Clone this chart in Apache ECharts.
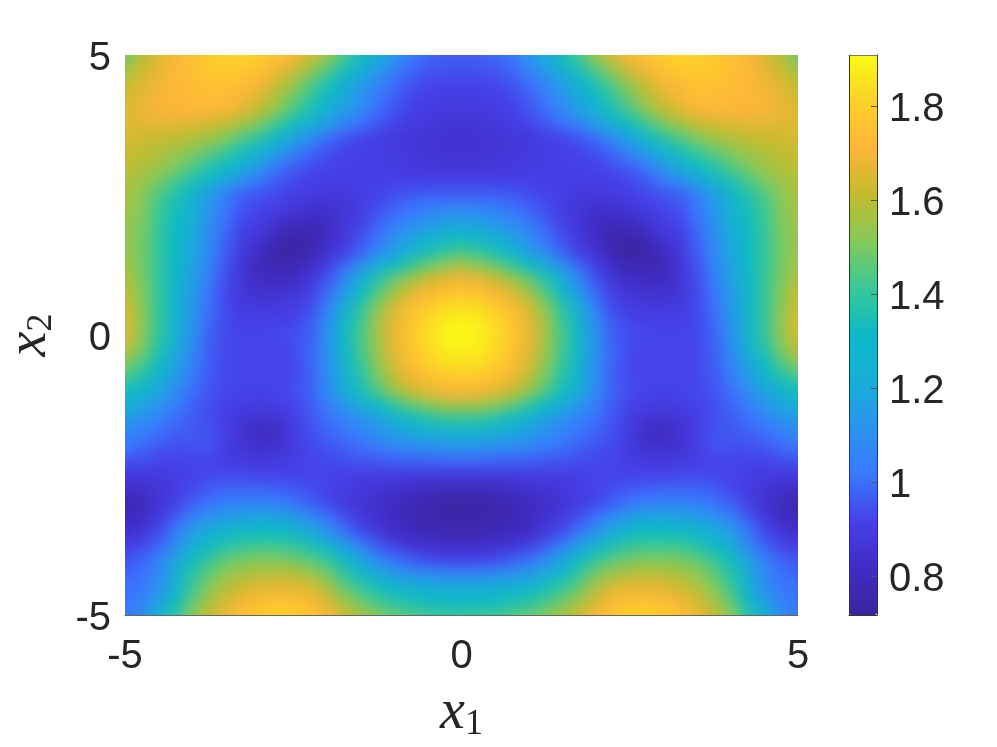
<!DOCTYPE html>
<html>
<head>
<meta charset="utf-8">
<style>
  html, body { margin: 0; background: #fff; }
  #chart { width: 997px; height: 747px; }
  /* heatmap layers sit on their own canvases: keep them inside the axes, soften the cell steps on the top one */
  #chart canvas + canvas { clip-path: inset(55px 199px 132px 125px); }
  #chart canvas + canvas + canvas { filter: blur(7px); }
</style>
<script src="https://cdn.jsdelivr.net/npm/echarts@6/dist/echarts.min.js"></script>
</head>
<body>
<div id="chart"></div>
<script>
// grid steps along x1 (left to right) and x2 (top row first)
const x1Steps = [-5,-4.75,-4.5,-4.25,-4,-3.75,-3.5,-3.25,-3,-2.75,-2.5,-2.25,-2,-1.75,-1.5,-1.25,-1,-.75,-.5,-.25,0,.25,.5,.75,1,1.25,1.5,1.75,2,2.25,2.5,2.75,3,3.25,3.5,3.75,4,4.25,4.5,4.75,5];
const x2Steps = [5,4.75,4.5,4.25,4,3.75,3.5,3.25,3,2.75,2.5,2.25,2,1.75,1.5,1.25,1,.75,.5,.25,0,-.25,-.5,-.75,-1,-1.25,-1.5,-1.75,-2,-2.25,-2.5,-2.75,-3,-3.25,-3.5,-3.75,-4,-4.25,-4.5,-4.75,-5];

// values, one row per x2 step
const fieldRows = [
[1.48,1.58,1.65,1.71,1.75,1.79,1.81,1.82,1.80,1.76,1.72,1.64,1.55,1.44,1.33,1.22,1.12,1.03,.99,.97,.97,.97,.99,1.03,1.12,1.22,1.33,1.44,1.55,1.64,1.72,1.76,1.80,1.82,1.81,1.79,1.75,1.71,1.65,1.58,1.48],
[1.55,1.62,1.67,1.72,1.75,1.78,1.79,1.78,1.75,1.70,1.64,1.55,1.46,1.35,1.25,1.15,1.06,.99,.96,.95,.95,.95,.96,.99,1.06,1.15,1.25,1.35,1.46,1.55,1.64,1.70,1.75,1.78,1.79,1.78,1.75,1.72,1.67,1.62,1.55],
[1.60,1.65,1.69,1.72,1.74,1.76,1.76,1.74,1.70,1.63,1.55,1.46,1.36,1.26,1.16,1.07,1.00,.95,.93,.92,.92,.92,.93,.95,1.00,1.07,1.16,1.26,1.36,1.46,1.55,1.63,1.70,1.74,1.76,1.76,1.74,1.72,1.69,1.65,1.60],
[1.63,1.67,1.70,1.72,1.73,1.74,1.73,1.70,1.65,1.58,1.49,1.40,1.30,1.20,1.11,1.03,.97,.93,.91,.90,.90,.90,.91,.93,.97,1.03,1.11,1.20,1.30,1.40,1.49,1.58,1.65,1.70,1.73,1.74,1.73,1.72,1.70,1.67,1.63],
[1.65,1.68,1.70,1.71,1.71,1.71,1.70,1.65,1.60,1.52,1.43,1.34,1.25,1.15,1.07,1.00,.95,.91,.89,.88,.88,.88,.89,.91,.95,1.00,1.07,1.15,1.25,1.34,1.43,1.52,1.60,1.65,1.70,1.71,1.71,1.71,1.70,1.68,1.65],
[1.65,1.66,1.66,1.66,1.65,1.63,1.60,1.55,1.49,1.41,1.32,1.23,1.14,1.06,1.00,.95,.92,.89,.88,.87,.86,.87,.88,.89,.92,.95,1.00,1.06,1.14,1.23,1.32,1.41,1.49,1.55,1.60,1.63,1.65,1.66,1.66,1.66,1.65],
[1.64,1.63,1.62,1.60,1.58,1.55,1.50,1.44,1.37,1.28,1.18,1.08,1.00,.95,.92,.90,.88,.87,.86,.85,.85,.85,.86,.87,.88,.90,.92,.95,1.00,1.08,1.18,1.28,1.37,1.44,1.50,1.55,1.58,1.60,1.62,1.63,1.64],
[1.62,1.60,1.58,1.55,1.51,1.46,1.41,1.33,1.25,1.15,1.06,.99,.94,.92,.91,.90,.89,.88,.87,.86,.86,.86,.87,.88,.89,.90,.91,.92,.94,.99,1.06,1.15,1.25,1.33,1.41,1.46,1.51,1.55,1.58,1.60,1.62],
[1.60,1.58,1.55,1.50,1.44,1.37,1.31,1.22,1.13,1.03,.97,.94,.92,.91,.91,.90,.89,.88,.87,.87,.87,.87,.87,.88,.89,.90,.91,.91,.92,.94,.97,1.03,1.13,1.22,1.31,1.37,1.44,1.50,1.55,1.58,1.60],
[1.58,1.55,1.50,1.43,1.36,1.27,1.18,1.09,1.02,.96,.93,.91,.90,.90,.91,.91,.91,.91,.91,.91,.91,.91,.91,.91,.91,.91,.91,.90,.90,.91,.93,.96,1.02,1.09,1.18,1.27,1.36,1.43,1.50,1.55,1.58],
[1.57,1.52,1.44,1.36,1.28,1.15,1.04,.97,.95,.93,.91,.89,.88,.88,.90,.92,.94,.96,.97,.97,.97,.97,.97,.96,.94,.92,.90,.88,.88,.89,.91,.93,.95,.97,1.04,1.15,1.28,1.36,1.44,1.52,1.57],
[1.56,1.51,1.42,1.34,1.25,1.12,1.02,.95,.92,.90,.87,.84,.84,.87,.90,.94,.98,1.01,1.04,1.06,1.07,1.06,1.04,1.01,.98,.94,.90,.87,.84,.84,.87,.90,.92,.95,1.02,1.12,1.25,1.34,1.42,1.51,1.56],
[1.55,1.50,1.41,1.32,1.22,1.10,1.00,.92,.90,.85,.81,.79,.81,.87,.91,.97,1.03,1.08,1.12,1.16,1.17,1.16,1.12,1.08,1.03,.97,.91,.87,.81,.79,.81,.85,.90,.92,1.00,1.10,1.22,1.32,1.41,1.50,1.55],
[1.55,1.49,1.40,1.31,1.20,1.08,.98,.90,.87,.79,.75,.76,.82,.88,.94,1.01,1.09,1.16,1.22,1.27,1.30,1.27,1.22,1.16,1.09,1.01,.94,.88,.82,.76,.75,.79,.87,.90,.98,1.08,1.20,1.31,1.40,1.49,1.55],
[1.55,1.49,1.40,1.31,1.19,1.07,.97,.88,.81,.74,.72,.76,.84,.90,.97,1.06,1.15,1.25,1.33,1.39,1.42,1.39,1.33,1.25,1.15,1.06,.97,.90,.84,.76,.72,.74,.81,.88,.97,1.07,1.19,1.31,1.40,1.49,1.55],
[1.56,1.49,1.40,1.30,1.17,1.05,.95,.86,.79,.76,.77,.82,.90,.98,1.09,1.21,1.31,1.40,1.47,1.52,1.56,1.52,1.47,1.40,1.31,1.21,1.09,.98,.90,.82,.77,.76,.79,.86,.95,1.05,1.17,1.30,1.40,1.49,1.56],
[1.58,1.50,1.40,1.29,1.16,1.03,.94,.86,.81,.80,.82,.87,.95,1.07,1.22,1.36,1.47,1.55,1.62,1.67,1.69,1.67,1.62,1.55,1.47,1.36,1.22,1.07,.95,.87,.82,.80,.81,.86,.94,1.03,1.16,1.29,1.40,1.50,1.58],
[1.61,1.51,1.40,1.28,1.14,1.01,.93,.87,.85,.85,.87,.90,.99,1.13,1.30,1.44,1.56,1.65,1.71,1.75,1.77,1.75,1.71,1.65,1.56,1.44,1.30,1.13,.99,.90,.87,.85,.85,.87,.93,1.01,1.14,1.28,1.40,1.51,1.61],
[1.63,1.52,1.40,1.27,1.13,1.00,.93,.89,.88,.88,.90,.93,1.04,1.21,1.38,1.52,1.64,1.73,1.79,1.83,1.84,1.83,1.79,1.73,1.64,1.52,1.38,1.21,1.04,.93,.90,.88,.88,.89,.93,1.00,1.13,1.27,1.40,1.52,1.63],
[1.65,1.53,1.40,1.26,1.11,.99,.93,.91,.91,.91,.92,.96,1.08,1.26,1.41,1.55,1.67,1.76,1.83,1.87,1.89,1.87,1.83,1.76,1.67,1.55,1.41,1.26,1.08,.96,.92,.91,.91,.91,.93,.99,1.11,1.26,1.40,1.53,1.65],
[1.65,1.53,1.39,1.25,1.10,.98,.93,.92,.92,.93,.94,.97,1.10,1.29,1.43,1.56,1.68,1.77,1.84,1.89,1.91,1.89,1.84,1.77,1.68,1.56,1.43,1.29,1.10,.97,.94,.93,.92,.92,.93,.98,1.10,1.25,1.39,1.53,1.65],
[1.60,1.50,1.37,1.22,1.08,.97,.93,.92,.92,.92,.93,.98,1.10,1.28,1.42,1.55,1.67,1.76,1.83,1.87,1.89,1.87,1.83,1.76,1.67,1.55,1.42,1.28,1.10,.98,.93,.92,.92,.92,.93,.97,1.08,1.22,1.37,1.50,1.60],
[1.52,1.44,1.32,1.18,1.05,.97,.93,.92,.92,.92,.93,.98,1.09,1.25,1.40,1.53,1.65,1.74,1.80,1.84,1.85,1.84,1.80,1.74,1.65,1.53,1.40,1.25,1.09,.98,.93,.92,.92,.92,.93,.97,1.05,1.18,1.32,1.44,1.52],
[1.43,1.36,1.26,1.14,1.03,.96,.93,.92,.92,.92,.93,.97,1.08,1.23,1.37,1.49,1.60,1.69,1.75,1.78,1.79,1.78,1.75,1.69,1.60,1.49,1.37,1.23,1.08,.97,.93,.92,.92,.92,.93,.96,1.03,1.14,1.26,1.36,1.43],
[1.33,1.27,1.18,1.09,1.00,.95,.93,.92,.92,.92,.94,.98,1.08,1.21,1.33,1.44,1.54,1.62,1.67,1.70,1.71,1.70,1.67,1.62,1.54,1.44,1.33,1.21,1.08,.98,.94,.92,.92,.92,.93,.95,1.00,1.09,1.18,1.27,1.33],
[1.24,1.19,1.11,1.04,.98,.94,.92,.90,.89,.90,.92,.96,1.03,1.12,1.22,1.31,1.39,1.47,1.52,1.56,1.57,1.56,1.52,1.47,1.39,1.31,1.22,1.12,1.03,.96,.92,.90,.89,.90,.92,.94,.98,1.04,1.11,1.19,1.24],
[1.15,1.10,1.05,1.00,.96,.94,.90,.87,.85,.86,.90,.95,1.00,1.05,1.10,1.17,1.24,1.31,1.36,1.39,1.40,1.39,1.36,1.31,1.24,1.17,1.10,1.05,1.00,.95,.90,.86,.85,.87,.90,.94,.96,1.00,1.05,1.10,1.15],
[1.08,1.04,1.00,.97,.96,.95,.91,.85,.80,.82,.89,.94,.98,1.01,1.05,1.10,1.15,1.19,1.22,1.24,1.25,1.24,1.22,1.19,1.15,1.10,1.05,1.01,.98,.94,.89,.82,.80,.85,.91,.95,.96,.97,1.00,1.04,1.08],
[1.02,.99,.96,.94,.95,.95,.90,.86,.84,.85,.89,.93,.95,.97,1.00,1.03,1.06,1.08,1.10,1.11,1.12,1.11,1.10,1.08,1.06,1.03,1.00,.97,.95,.93,.89,.85,.84,.86,.90,.95,.95,.94,.96,.99,1.02],
[.95,.94,.92,.92,.92,.92,.90,.89,.88,.89,.90,.92,.93,.94,.95,.96,.97,.98,.98,.99,.99,.99,.98,.98,.97,.96,.95,.94,.93,.92,.90,.89,.88,.89,.90,.92,.92,.92,.92,.94,.95],
[.88,.88,.89,.90,.92,.93,.93,.93,.92,.92,.92,.92,.92,.91,.90,.90,.90,.89,.88,.88,.88,.88,.88,.89,.90,.90,.90,.91,.92,.92,.92,.92,.92,.93,.93,.93,.92,.90,.89,.88,.88],
[.82,.84,.87,.90,.93,.96,.98,.98,.98,.97,.96,.94,.92,.90,.88,.86,.85,.83,.81,.80,.80,.80,.81,.83,.85,.86,.88,.90,.92,.94,.96,.97,.98,.98,.98,.96,.93,.90,.87,.84,.82],
[.77,.80,.85,.91,.97,1.01,1.04,1.05,1.05,1.04,1.01,.97,.93,.89,.86,.83,.80,.77,.75,.74,.73,.74,.75,.77,.80,.83,.86,.89,.93,.97,1.01,1.04,1.05,1.05,1.04,1.01,.97,.91,.85,.80,.77],
[.79,.82,.88,.96,1.05,1.10,1.14,1.17,1.18,1.18,1.15,1.08,1.01,.94,.89,.85,.81,.78,.76,.75,.74,.75,.76,.78,.81,.85,.89,.94,1.01,1.08,1.15,1.18,1.18,1.17,1.14,1.10,1.05,.96,.88,.82,.79],
[.83,.86,.93,1.03,1.14,1.22,1.27,1.30,1.31,1.31,1.27,1.19,1.10,1.01,.93,.87,.82,.79,.77,.76,.76,.76,.77,.79,.82,.87,.93,1.01,1.10,1.19,1.27,1.31,1.31,1.30,1.27,1.22,1.14,1.03,.93,.86,.83],
[.89,.92,.98,1.08,1.22,1.30,1.36,1.40,1.41,1.41,1.39,1.34,1.26,1.15,1.05,.96,.90,.86,.84,.83,.82,.83,.84,.86,.90,.96,1.05,1.15,1.26,1.34,1.39,1.41,1.41,1.40,1.36,1.30,1.22,1.08,.98,.92,.89],
[.95,.98,1.04,1.18,1.32,1.40,1.46,1.49,1.50,1.50,1.48,1.45,1.39,1.30,1.18,1.07,1.00,.96,.93,.91,.91,.91,.93,.96,1.00,1.07,1.18,1.30,1.39,1.45,1.48,1.50,1.50,1.49,1.46,1.40,1.32,1.18,1.04,.98,.95],
[.98,1.00,1.07,1.22,1.37,1.46,1.52,1.56,1.58,1.59,1.58,1.55,1.49,1.39,1.29,1.20,1.13,1.09,1.07,1.05,1.05,1.05,1.07,1.09,1.13,1.20,1.29,1.39,1.49,1.55,1.58,1.59,1.58,1.56,1.52,1.46,1.37,1.22,1.07,1.00,.98],
[1.00,1.02,1.10,1.25,1.41,1.51,1.58,1.63,1.66,1.67,1.67,1.64,1.57,1.47,1.40,1.33,1.27,1.24,1.22,1.20,1.20,1.20,1.22,1.24,1.27,1.33,1.40,1.47,1.57,1.64,1.67,1.67,1.66,1.63,1.58,1.51,1.41,1.25,1.10,1.02,1.00],
[1.01,1.05,1.16,1.31,1.46,1.56,1.64,1.69,1.73,1.75,1.75,1.71,1.64,1.55,1.48,1.42,1.37,1.34,1.32,1.31,1.30,1.31,1.32,1.34,1.37,1.42,1.48,1.55,1.64,1.71,1.75,1.75,1.73,1.69,1.64,1.56,1.46,1.31,1.16,1.05,1.01],
[1.02,1.08,1.27,1.38,1.52,1.61,1.68,1.75,1.79,1.81,1.80,1.76,1.70,1.63,1.57,1.51,1.47,1.44,1.42,1.41,1.40,1.41,1.42,1.44,1.47,1.51,1.57,1.63,1.70,1.76,1.80,1.81,1.79,1.75,1.68,1.61,1.52,1.38,1.27,1.08,1.02]
];

const xTicks = [-5, 0, 5];
const colorbarTicks = [0.8, 1, 1.2, 1.4, 1.6, 1.8];
const colorMin = 0.717;
const colorMax = 1.908;
// parula as it appears in the colorbar, bottom to top
const parula = ['#3a259f','#402cc4','#4640e8','#3a78ff','#2a94ee','#18aed6','#0cb9c6','#38c898','#84ca5a','#c4bb2e','#fdb53a','#fdd028','#f9fb14'];

const textColor = '#262626';
const tickFont = 'Liberation Sans, Arial, sans-serif';
const mathRich = {
  v: { fontFamily: 'Liberation Serif, serif', fontStyle: 'italic', fontSize: 56, color: textColor },
  s: { fontFamily: 'Liberation Serif, serif', fontSize: 36, color: textColor, padding: [24, 0, 0, 0] }
};
// tick text sits a little below its tick in the reference
const tickRich = { t: { color: textColor, fontSize: 40, fontFamily: tickFont, padding: [8, 0, 0, 0] } };

const heatData = [];
fieldRows.forEach((row, r) => {
  row.forEach((v, c) => heatData.push([c, x2Steps.length - 1 - r, v]));
});

const chart = echarts.init(document.getElementById('chart'));

chart.setOption({
  animation: false,
  backgroundColor: '#fff',
  grid: [
    { left: 125, top: 55, width: 673, height: 560, outerBoundsMode: 'none' },
    { left: 849, top: 55, width: 28, height: 560, outerBoundsMode: 'none' },
    // half a cell larger each way, so the first and last cell centres land on -5 and 5
    { left: 116.6, top: 48, width: 689.8, height: 574, outerBoundsMode: 'none' }
  ],
  xAxis: [
    { type: 'category', gridIndex: 2, show: false, data: x1Steps },
    {
      type: 'value', gridIndex: 0, min: -5, max: 5, interval: 5, position: 'bottom', z: 10,
      name: '{v|x}{s|1}', nameLocation: 'middle', nameGap: 68, nameTextStyle: { rich: mathRich },
      axisLine: { onZero: false, lineStyle: { color: '#666' } },
      axisTick: { show: false }, splitLine: { show: false },
      axisLabel: {
        color: textColor, fontSize: 40, fontFamily: tickFont, margin: 22,
        customValues: xTicks, formatter: v => String(v)
      }
    },
    { type: 'value', gridIndex: 1, min: 0, max: 1, position: 'bottom', z: 10, axisLine: { onZero: false, lineStyle: { color: '#333' } }, axisTick: { show: false }, axisLabel: { show: false }, splitLine: { show: false } },
    { type: 'value', gridIndex: 1, min: 0, max: 1, position: 'top', z: 10, axisLine: { onZero: false, lineStyle: { color: '#777' } }, axisTick: { show: false }, axisLabel: { show: false }, splitLine: { show: false } }
  ],
  yAxis: [
    { type: 'category', gridIndex: 2, show: false, data: x2Steps.slice().reverse() },
    {
      type: 'value', gridIndex: 0, min: -5, max: 5, interval: 5, position: 'left', z: 10,
      name: '{v|x}{s|2}', nameLocation: 'middle', nameGap: 65, nameRotate: 90, nameTextStyle: { rich: mathRich },
      axisLine: { onZero: false, lineStyle: { color: '#ccc' } },
      axisTick: { show: false }, splitLine: { show: false },
      axisLabel: {
        margin: 14, rich: tickRich,
        customValues: xTicks, formatter: v => '{t|' + v + '}'
      }
    },
    {
      type: 'value', gridIndex: 1, min: colorMin, max: colorMax, position: 'right', z: 10,
      axisLine: { onZero: false, lineStyle: { color: '#333' } },
      axisTick: { inside: true, length: 6, lineStyle: { color: '#555' }, customValues: colorbarTicks },
      splitLine: { show: false },
      axisLabel: {
        margin: 12, rich: tickRich,
        customValues: colorbarTicks, formatter: v => '{t|' + v + '}'
      }
    },
    { type: 'value', gridIndex: 1, min: colorMin, max: colorMax, position: 'left', z: 10, axisLine: { onZero: false, lineStyle: { color: '#333' } }, axisTick: { show: false }, axisLabel: { show: false }, splitLine: { show: false } }
  ],
  visualMap: {
    type: 'continuous',
    seriesIndex: [0, 1],
    min: colorMin,
    max: colorMax,
    left: 849,
    top: 55,
    padding: 0,
    itemWidth: 28,
    itemHeight: 560,
    calculable: false,
    hoverLink: false,
    inRange: { color: parula }
  },
  series: [
    { type: 'heatmap', xAxisIndex: 0, yAxisIndex: 0, zlevel: 1, data: heatData, progressive: 0, itemStyle: { borderWidth: 0 }, emphasis: { disabled: true } },
    // same cells again, blurred by the css rule above
    { type: 'heatmap', xAxisIndex: 0, yAxisIndex: 0, zlevel: 2, data: heatData, progressive: 0, itemStyle: { borderWidth: 0 }, emphasis: { disabled: true } }
  ]
});

window.addEventListener('resize', () => chart.resize());
</script>
</body>
</html>
